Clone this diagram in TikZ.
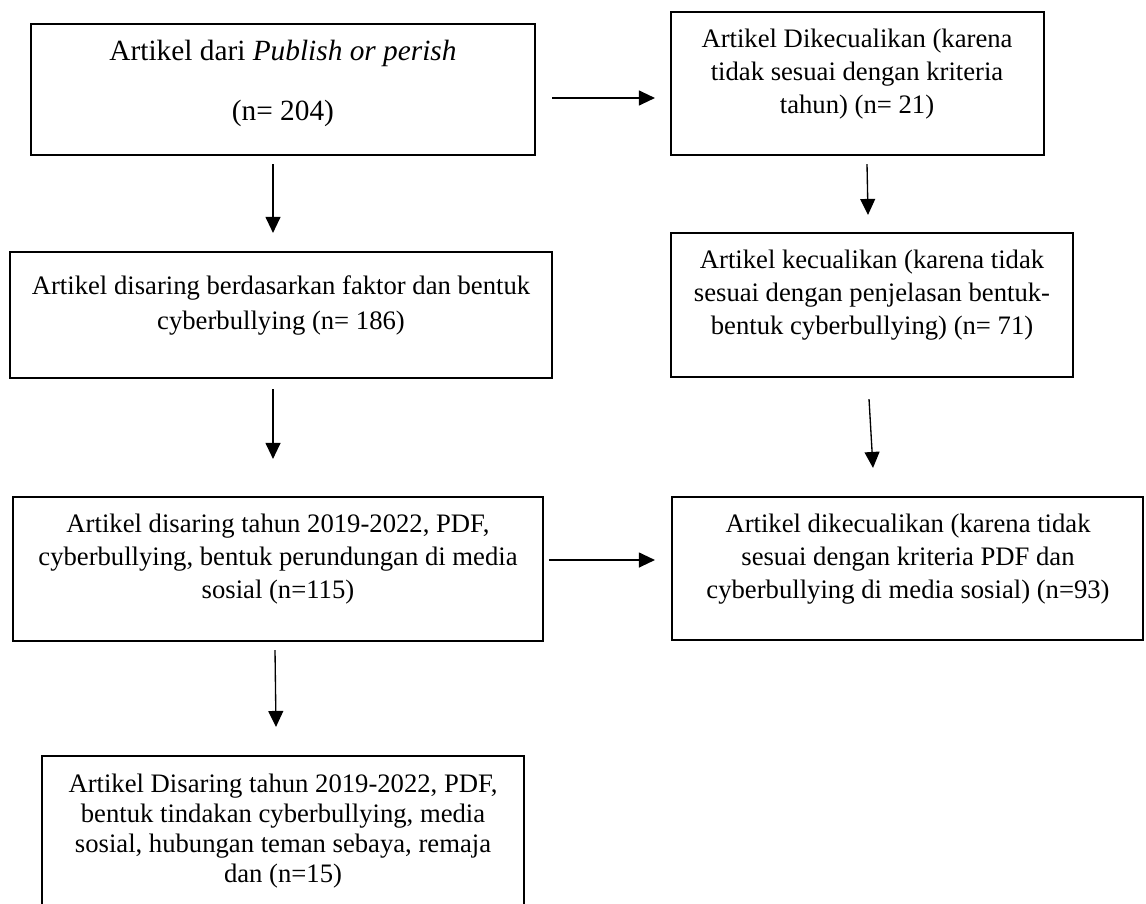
\documentclass[tikz,border=0pt]{standalone}
\usepackage{fontspec}
\setmainfont{Liberation Serif}
\usetikzlibrary{arrows.meta,fit}

\tikzset{
    kotak/.style={draw, line width=0.8pt, inner sep=0pt},
    isi/.style={align=center, inner sep=0pt, font=\fontsize{10}{12.4}\selectfont},
    panah/.style={-{Triangle[length=6pt,width=5.6pt]}, line width=0.5pt}
}

\begin{document}
\begin{tikzpicture}[x=0.375pt,y=-0.375pt]
            \useasboundingbox (0,0) rectangle (1146,903);
            \node[kotak, fit={(31,24) (535,155)}] (pop) {};
            \node[kotak, fit={(671,12) (1044,155)}] (kec1) {};
            \node[kotak, fit={(10,252) (552,378)}] (saring1) {};
            \node[kotak, fit={(671,233) (1073,377)}] (kec2) {};
            \node[kotak, fit={(13,497) (543,641)}] (saring2) {};
            \node[kotak, fit={(672,497) (1143,640)}] (kec3) {};
            \node[kotak, fit={(42,756) (524,908)}] (akhir) {};

            \node[isi, font=\fontsize{11}{13.6}\selectfont] (tpop) at (283,83) {Artikel dari \textit{Publish or perish}\\[8.9pt](n= 204)};
            \node[isi] (tkec1) at (857,74) {Artikel Dikecualikan (karena\\tidak sesuai dengan kriteria\\tahun) (n= 21)};
            \node[isi, font=\fontsize{10}{13.1}\selectfont] (tsaring1) at (281,305.5) {Artikel disaring berdasarkan faktor dan bentuk\\cyberbullying (n= 186)};
            \node[isi] (tkec2) at (872,295) {Artikel kecualikan (karena tidak\\sesuai dengan penjelasan bentuk-\\bentuk cyberbullying) (n= 71)};
            \node[isi] (tsaring2) at (278,559.5) {Artikel disaring tahun 2019-2022, PDF,\\cyberbullying, bentuk perundungan di media\\sosial (n=115)};
            \node[isi] (tkec3) at (908,559) {Artikel dikecualikan (karena tidak\\sesuai dengan kriteria PDF dan\\cyberbullying di media sosial) (n=93)};
            \node[isi, font=\fontsize{10}{11.25}\selectfont] (takhir) at (283,831) {Artikel Disaring tahun 2019-2022, PDF,\\bentuk tindakan cyberbullying, media\\sosial, hubungan teman sebaya, remaja\\dan (n=15)};

            \draw[panah] ([shift={(16,8.5)}]pop.east) -- ([shift={(-15,14.5)}]kec1.west);
            \draw[panah] ([shift={(5,-9)}]saring2.east) -- ([shift={(-16,-8.5)}]kec3.west);
            \foreach \Dari/\Ke/\Sa/\Sb in {pop/saring1/{-10,8}/{-8,-18}, saring1/saring2/{-8,10}/{-5,-37}, saring2/akhir/{-3,8}/{-7,-28}, kec1/kec2/{9.5,8}/{-4,-17}, kec2/kec3/{-3,21}/{-34.5,-28}}
            \draw[panah] ([shift={(\Sa)}]\Dari.south) -- ([shift={(\Sb)}]\Ke.north);
        \end{tikzpicture}
\end{document}
